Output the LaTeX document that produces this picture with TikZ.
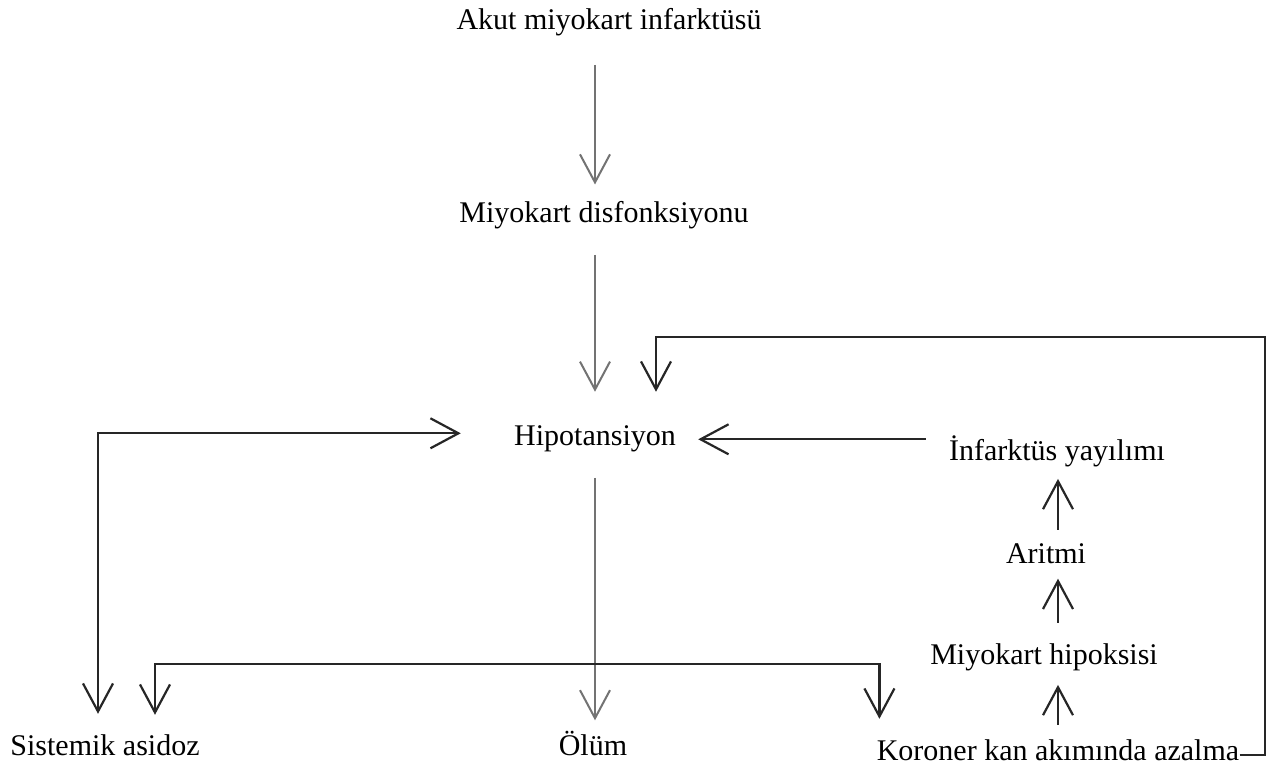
\documentclass[tikz,border=0pt]{standalone}
\usepackage{fontspec}
\setmainfont{Liberation Serif}
\usetikzlibrary{arrows.meta}

\begin{document}
\begin{tikzpicture}[x=0.5pt,y=-0.5pt,>={Straight Barb[length=14pt,width=15pt]},
	txt/.style={inner sep=0,anchor=base,font=\fontsize{15}{18}\selectfont},
	dn/.style={black!55,line width=1pt},
	ln/.style={black!85,line width=1.1pt}]
	\useasboundingbox[fill=white] (0,0) rectangle (1275,769);
	% texts
	\node[txt] (akut) at (609,30) {Akut miyokart infarktüsü};
	\node[txt] (disf) at (604,223) {Miyokart disfonksiyonu};
	\node[txt] (hipo) at (595,446) {Hipotansiyon};
	\node[txt] (infark) at (1057,461) {İnfarktüs yayılımı};
	\node[txt] (aritmi) at (1046,564) {Aritmi};
	\node[txt] (hipoks) at (1044,665) {Miyokart hipoksisi};
	\node[txt] (koroner) at (1058,761) {Koroner kan akımında azalma};
	\node[txt] (olum) at (593,755) {Ölüm};
	\node[txt] (sist) at (105,755) {Sistemik asidoz};
	\coordinate (fb) at (1265,337);
	\coordinate (br) at (595,664);
	% down the middle
	\draw[dn,->,shorten <=14pt,shorten >=8.5pt] (akut.south -| hipo) -- (disf.north -| hipo);
	\draw[dn,->,shorten <=12.5pt,shorten >=17pt] (disf.south -| hipo) -- (hipo.north);
	\draw[dn,->,shorten <=12.5pt,shorten >=5pt] (hipo.south) -- (olum.north -| hipo);
	\draw[ln,<->,shorten <=9.5pt,shorten >=10.5pt] ([xshift=25pt]sist.north) |- (br) -| ([xshift=1.5pt]koroner.north west);
	% left loop
	\draw[ln,<->,shorten <=26.5pt,shorten >=10pt] ([yshift=3pt]hipo.west) -| ([xshift=-3.5pt]sist.north);
	% right side
	\draw[ln,->,shorten <=11.5pt,shorten >=11pt] (infark.west |- hipo.east) -- (hipo.east);
	\draw[ln,->,shorten <=7.5pt,shorten >=6.5pt] (koroner.north) -- (koroner.north |- hipoks.south);
	\draw[ln,->,shorten <=10.5pt,shorten >=7pt] (hipoks.north -| koroner) -- (aritmi.south -| koroner);
	\draw[ln,->,shorten <=7pt,shorten >=5.5pt] (aritmi.north -| koroner) -- (infark.south -| koroner);
	\draw[ln,->,shorten >=17pt] ([yshift=3pt]koroner.base east) -| (fb) -| ([xshift=30.5pt]hipo.north);
\end{tikzpicture}
\end{document}
